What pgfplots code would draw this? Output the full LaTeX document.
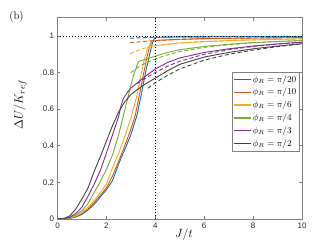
\documentclass[border=0pt]{standalone}
\usepackage{fontspec}
\usepackage{pgfplots}
\pgfplotsset{compat=1.18}
\newfontfamily\arialfont{Liberation Sans}
\definecolor{c1}{rgb}{0,0.447,0.741}
\definecolor{c2}{rgb}{0.85,0.325,0.098}
\definecolor{c3}{rgb}{0.929,0.694,0.125}
\definecolor{c4}{rgb}{0.466,0.674,0.188}
\definecolor{c5}{rgb}{0.494,0.184,0.556}
\definecolor{c6}{rgb}{0.25,0.25,0.25}
\begin{document}
\begin{tikzpicture}
\path[use as bounding box] (0,0) rectangle (332pt,249pt);
\node[font=\fontsize{11}{13}\selectfont] at (16.5pt,232pt) {(b)};
\begin{axis}[
  at={(57.5pt,30pt)}, anchor=south west,
  width=244.5pt, height=201.3pt, scale only axis,
  xmin=0, xmax=10, ymin=0, ymax=1.1,
  xtick={0,2,4,6,8,10}, xticklabels={0,2,4,6,8,10},
  ytick={0,0.2,0.4,0.6,0.8,1}, yticklabels={0,0.2,0.4,0.6,0.8,1},
  tick align=inside, major tick length=3pt,
  axis line style={black!50, line width=0.6pt},
  tick style={black!50, line width=0.6pt},
  ticklabel style={font=\arialfont\fontsize{8}{9}\selectfont, text=black!85},
  /pgf/number format/assume math mode=true,
  xlabel={$J/t$}, ylabel={$\Delta U/K_{ref}$},
  label style={font=\fontsize{13}{15}\selectfont},
  xlabel style={at={(axis description cs:0.517,-0.075)}, anchor=center},
  ylabel style={at={(axis description cs:-0.153,0.57)}, anchor=center},
  legend style={name=leg, at={(0.988,0.730)}, anchor=north east, draw=none, fill=white,
    font=\fontsize{9}{10}\selectfont, cells={anchor=west}, inner sep=1pt, row sep=0.6pt,
    nodes={inner xsep=1.5pt}},
  legend image code/.code={\draw[#1, line width=1.2pt] (0pt,0pt) -- (17pt,0pt);},
  every axis plot/.append style={line width=0.9pt},
]
% solid curves
\addplot[color=c1] coordinates {(0,0) (0.25,0.0005) (0.5,0.003) (0.75,0.011) (1.0,0.025) (1.25,0.05) (1.5,0.08) (1.75,0.12) (2.0,0.16) (2.25,0.21) (2.5,0.30) (2.75,0.38) (3.0,0.46) (3.25,0.567) (3.42,0.676) (3.6,0.80) (3.75,0.89) (3.88,0.96) (3.97,0.99) (4.1,0.993) (5,0.995) (7,0.996) (10,0.996)};
\addlegendentry{$\phi_R=\pi/20$}
\addplot[color=c2] coordinates {(0,0) (0.25,0.0006) (0.5,0.004) (0.75,0.013) (1.0,0.03) (1.25,0.055) (1.5,0.09) (1.75,0.13) (2.0,0.17) (2.25,0.235) (2.5,0.315) (2.75,0.40) (3.0,0.49) (3.18,0.567) (3.35,0.676) (3.5,0.78) (3.65,0.88) (3.78,0.95) (3.86,0.972) (4.2,0.977) (5,0.982) (6,0.986) (8,0.989) (10,0.991)};
\addlegendentry{$\phi_R=\pi/10$}
\addplot[color=c3] coordinates {(0,0) (0.25,0.0008) (0.5,0.005) (0.75,0.016) (1.0,0.035) (1.25,0.065) (1.5,0.10) (1.75,0.145) (2.0,0.19) (2.25,0.28) (2.5,0.36) (2.75,0.45) (3.0,0.55) (3.25,0.676) (3.4,0.78) (3.55,0.87) (3.65,0.92) (3.72,0.942) (4,0.947) (4.5,0.956) (5,0.962) (6,0.969) (7,0.975) (8,0.979) (10,0.984)};
\addlegendentry{$\phi_R=\pi/6$}
\addplot[color=c4] coordinates {(0,0) (0.25,0.001) (0.5,0.007) (0.75,0.022) (1.0,0.045) (1.25,0.085) (1.5,0.145) (1.75,0.205) (2.0,0.27) (2.25,0.35) (2.5,0.46) (2.7,0.567) (2.9,0.676) (3.1,0.78) (3.25,0.84) (3.33,0.862) (3.6,0.872) (4,0.89) (4.5,0.91) (5,0.925) (6,0.943) (7,0.955) (8,0.964) (9,0.97) (10,0.975)};
\addlegendentry{$\phi_R=\pi/4$}
\addplot[color=c5] coordinates {(0,0) (0.25,0.0015) (0.5,0.01) (0.75,0.03) (1.0,0.065) (1.25,0.125) (1.5,0.19) (1.75,0.265) (2.0,0.36) (2.25,0.46) (2.5,0.56) (2.6,0.62) (2.7,0.66) (2.85,0.69) (3.0,0.715) (3.5,0.77) (4,0.82) (4.5,0.855) (5,0.88) (6,0.91) (7,0.93) (8,0.945) (9,0.957) (10,0.966)};
\addlegendentry{$\phi_R=\pi/3$}
\addplot[color=c6] coordinates {(0,0) (0.25,0.002) (0.5,0.017) (0.75,0.055) (1.0,0.11) (1.25,0.17) (1.5,0.26) (1.75,0.34) (2.0,0.425) (2.25,0.51) (2.5,0.585) (2.75,0.64) (3.0,0.68) (3.5,0.73) (4,0.77) (4.5,0.81) (5,0.845) (6,0.885) (7,0.91) (8,0.93) (9,0.945) (10,0.958)};
\addlegendentry{$\phi_R=\pi/2$}
% dashed asymptotes
\addplot[color=c1, dash pattern=on 4pt off 2.5pt, forget plot] coordinates {(2.97,0.988) (3.5,0.991) (4,0.993) (5,0.995) (7,0.996) (10,0.997)};
\addplot[color=c2, dash pattern=on 4pt off 2.5pt, forget plot] coordinates {(2.97,0.963) (3.5,0.970) (4,0.975) (5,0.981) (6,0.985) (8,0.989) (10,0.991)};
\addplot[color=c3, dash pattern=on 4pt off 2.5pt, forget plot] coordinates {(2.97,0.903) (3.25,0.92) (3.5,0.932) (4,0.946) (4.5,0.955) (5,0.961) (6,0.969) (7,0.975) (8,0.979) (10,0.984)};
\addplot[color=c4, dash pattern=on 4pt off 2.5pt, forget plot] coordinates {(3.0,0.80) (3.25,0.825) (3.5,0.845) (4,0.875) (4.5,0.897) (5,0.915) (6,0.938) (7,0.952) (8,0.963) (9,0.97) (10,0.975)};
\addplot[color=c5, dash pattern=on 4pt off 2.5pt, forget plot] coordinates {(3.25,0.74) (3.5,0.762) (4,0.80) (4.5,0.835) (5,0.862) (6,0.90) (7,0.925) (8,0.943) (9,0.956) (10,0.966)};
\addplot[color=c6, dash pattern=on 4pt off 2.5pt, forget plot] coordinates {(3.7,0.715) (4,0.745) (4.5,0.785) (5,0.82) (6,0.868) (7,0.9) (8,0.923) (9,0.942) (10,0.957)};
% reference dotted lines
\addplot[color=black, dotted, line width=0.6pt, forget plot] coordinates {(0,1) (10,1)};
\addplot[color=black, dotted, line width=0.6pt, forget plot] coordinates {(4,0) (4,1.1)};
\end{axis}
\draw[black!50, line width=0.6pt] (leg.south west) rectangle (leg.north east);
\end{tikzpicture}
\end{document}
